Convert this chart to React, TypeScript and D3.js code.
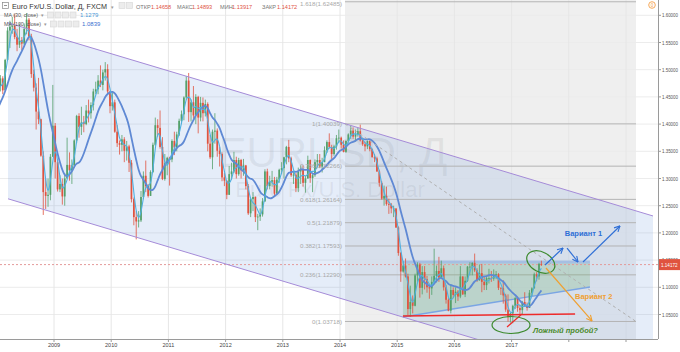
import React from 'react';
import * as d3 from 'd3';

const W = 680;
const H = 352;
const PLOT_R = 658;
const PLOT_B = 339;
const FONT = 'Liberation Sans, Arial, sans-serif';

// Half-month candles, starting July 2007 (first half)
const firstPeriod = 2007.5;
const firstOpen = 1.37;
const closes = [
  // 2007 H2
  1.376, 1.366, 1.362, 1.366, 1.392, 1.426, 1.418, 1.448, 1.466, 1.463, 1.446, 1.459,
  // 2008
  1.47, 1.484, 1.462, 1.518, 1.572, 1.579, 1.58, 1.56, 1.546, 1.554, 1.548, 1.575,
  1.592, 1.561, 1.492, 1.467, 1.423, 1.409, 1.342, 1.275, 1.268, 1.27, 1.34, 1.397,
  // 2009
  1.33, 1.28, 1.29, 1.267, 1.3, 1.325, 1.315, 1.324, 1.37, 1.415, 1.395, 1.403,
  1.4, 1.425, 1.42, 1.435, 1.46, 1.464, 1.48, 1.472, 1.495, 1.501, 1.46, 1.433,
  // 2010
  1.44, 1.386, 1.365, 1.362, 1.372, 1.351, 1.359, 1.329, 1.262, 1.229, 1.221, 1.223,
  1.266, 1.305, 1.286, 1.268, 1.312, 1.362, 1.398, 1.393, 1.358, 1.299, 1.328, 1.338,
  // 2011
  1.335, 1.369, 1.357, 1.381, 1.406, 1.418, 1.449, 1.48, 1.422, 1.44, 1.416, 1.45,
  1.412, 1.439, 1.42, 1.437, 1.364, 1.339, 1.386, 1.388, 1.351, 1.345, 1.302, 1.296,
  // 2012
  1.27, 1.308, 1.313, 1.334, 1.308, 1.334, 1.315, 1.324, 1.286, 1.236, 1.262, 1.266,
  1.229, 1.23, 1.234, 1.258, 1.313, 1.286, 1.294, 1.297, 1.272, 1.298, 1.316, 1.319,
  // 2013
  1.339, 1.358, 1.337, 1.306, 1.307, 1.282, 1.313, 1.317, 1.292, 1.3, 1.334, 1.301,
  1.306, 1.33, 1.334, 1.322, 1.33, 1.352, 1.367, 1.358, 1.345, 1.359, 1.374, 1.375,
  // 2014
  1.362, 1.349, 1.369, 1.381, 1.388, 1.377, 1.381, 1.387, 1.37, 1.363, 1.359, 1.369,
  1.354, 1.339, 1.337, 1.313, 1.292, 1.263, 1.268, 1.253, 1.252, 1.245, 1.245, 1.21,
  // 2015
  1.163, 1.129, 1.14, 1.12, 1.06, 1.073, 1.066, 1.122, 1.142, 1.099, 1.128, 1.115,
  1.1, 1.098, 1.11, 1.121, 1.13, 1.118, 1.135, 1.1, 1.077, 1.057, 1.095, 1.086,
  // 2016
  1.092, 1.083, 1.12, 1.087, 1.112, 1.138, 1.138, 1.145, 1.131, 1.113, 1.126, 1.11,
  1.104, 1.117, 1.117, 1.116, 1.123, 1.124, 1.099, 1.098, 1.085, 1.059, 1.045, 1.052,
  // 2017
  1.066, 1.08, 1.062, 1.058, 1.073, 1.065, 1.062, 1.09, 1.098, 1.124, 1.12, 1.143, 1.14172,
];
const highs = [
  1.382, 1.385, 1.376, 1.37, 1.394, 1.428, 1.428, 1.45, 1.475, 1.497, 1.476, 1.473,
  1.485, 1.49, 1.488, 1.52, 1.578, 1.59, 1.597, 1.602, 1.575, 1.585, 1.56, 1.585,
  1.604, 1.595, 1.566, 1.5, 1.475, 1.485, 1.41, 1.35, 1.3, 1.3, 1.345, 1.472,
  1.402, 1.335, 1.306, 1.3, 1.31, 1.375, 1.348, 1.335, 1.372, 1.417, 1.42, 1.432,
  1.415, 1.435, 1.445, 1.44, 1.465, 1.478, 1.49, 1.508, 1.5, 1.514, 1.51, 1.46,
  1.458, 1.445, 1.398, 1.37, 1.38, 1.376, 1.369, 1.362, 1.334, 1.265, 1.24, 1.24,
  1.277, 1.313, 1.333, 1.29, 1.315, 1.366, 1.412, 1.409, 1.425, 1.376, 1.345, 1.34,
  1.34, 1.372, 1.386, 1.386, 1.41, 1.425, 1.451, 1.488, 1.494, 1.445, 1.47, 1.455,
  1.452, 1.45, 1.449, 1.445, 1.44, 1.38, 1.39, 1.42, 1.392, 1.358, 1.348, 1.31,
  1.296, 1.323, 1.329, 1.349, 1.34, 1.338, 1.336, 1.336, 1.325, 1.29, 1.264, 1.275,
  1.267, 1.235, 1.245, 1.264, 1.317, 1.318, 1.305, 1.314, 1.303, 1.303, 1.318, 1.33,
  1.34, 1.36, 1.371, 1.34, 1.313, 1.31, 1.32, 1.324, 1.324, 1.305, 1.342, 1.335,
  1.31, 1.335, 1.345, 1.345, 1.338, 1.359, 1.37, 1.383, 1.362, 1.362, 1.38, 1.39,
  1.377, 1.37, 1.37, 1.383, 1.397, 1.394, 1.39, 1.393, 1.399, 1.375, 1.368, 1.37,
  1.37, 1.355, 1.345, 1.34, 1.316, 1.295, 1.287, 1.285, 1.263, 1.255, 1.25, 1.245,
  1.212, 1.165, 1.148, 1.153, 1.125, 1.103, 1.085, 1.125, 1.146, 1.145, 1.139, 1.139,
  1.121, 1.105, 1.12, 1.171, 1.14, 1.156, 1.149, 1.14, 1.104, 1.08, 1.106, 1.1,
  1.1, 1.095, 1.139, 1.12, 1.12, 1.139, 1.146, 1.146, 1.162, 1.135, 1.142, 1.143,
  1.12, 1.12, 1.134, 1.13, 1.133, 1.13, 1.126, 1.1, 1.113, 1.088, 1.087, 1.053,
  1.068, 1.082, 1.083, 1.068, 1.075, 1.091, 1.072, 1.095, 1.1, 1.127, 1.128, 1.145, 1.14893,
];
const lows = [
  1.362, 1.36, 1.355, 1.334, 1.36, 1.39, 1.404, 1.415, 1.44, 1.46, 1.436, 1.436,
  1.456, 1.46, 1.455, 1.462, 1.516, 1.54, 1.566, 1.556, 1.534, 1.54, 1.536, 1.545,
  1.565, 1.554, 1.485, 1.46, 1.39, 1.4, 1.34, 1.233, 1.244, 1.248, 1.26, 1.34,
  1.3, 1.276, 1.275, 1.252, 1.25, 1.3, 1.296, 1.29, 1.32, 1.365, 1.375, 1.38,
  1.385, 1.398, 1.403, 1.41, 1.425, 1.455, 1.455, 1.468, 1.462, 1.48, 1.455, 1.42,
  1.425, 1.384, 1.358, 1.344, 1.35, 1.33, 1.333, 1.312, 1.256, 1.214, 1.188, 1.21,
  1.22, 1.262, 1.275, 1.265, 1.268, 1.31, 1.36, 1.377, 1.355, 1.297, 1.296, 1.306,
  1.287, 1.33, 1.343, 1.35, 1.378, 1.4, 1.407, 1.445, 1.404, 1.405, 1.41, 1.4,
  1.383, 1.405, 1.405, 1.414, 1.35, 1.336, 1.317, 1.364, 1.34, 1.322, 1.295, 1.286,
  1.262, 1.27, 1.298, 1.31, 1.3, 1.305, 1.3, 1.305, 1.28, 1.233, 1.229, 1.24,
  1.22, 1.205, 1.222, 1.23, 1.257, 1.28, 1.28, 1.285, 1.266, 1.27, 1.292, 1.308,
  1.3, 1.326, 1.33, 1.303, 1.29, 1.275, 1.275, 1.29, 1.285, 1.274, 1.3, 1.292,
  1.275, 1.303, 1.32, 1.319, 1.311, 1.33, 1.347, 1.355, 1.336, 1.342, 1.353, 1.365,
  1.355, 1.348, 1.347, 1.366, 1.373, 1.373, 1.368, 1.377, 1.368, 1.36, 1.35, 1.354,
  1.35, 1.339, 1.33, 1.312, 1.285, 1.261, 1.25, 1.25, 1.235, 1.236, 1.229, 1.209,
  1.158, 1.11, 1.127, 1.118, 1.049, 1.046, 1.052, 1.065, 1.11, 1.081, 1.087, 1.096,
  1.09, 1.079, 1.086, 1.106, 1.109, 1.11, 1.116, 1.094, 1.07, 1.056, 1.052, 1.08,
  1.071, 1.075, 1.08, 1.086, 1.082, 1.11, 1.122, 1.122, 1.128, 1.11, 1.112, 1.091,
  1.095, 1.095, 1.107, 1.11, 1.112, 1.115, 1.095, 1.086, 1.07, 1.055, 1.037, 1.035,
  1.034, 1.06, 1.055, 1.049, 1.05, 1.064, 1.057, 1.062, 1.084, 1.098, 1.111, 1.114, 1.13917,
];

const yearTicks = [2009, 2010, 2011, 2012, 2013, 2014, 2015, 2016, 2017];
const extraYearTicks = [2018, 2019];
const priceTicks = [1.05, 1.1, 1.15, 1.2, 1.25, 1.3, 1.35, 1.4, 1.45, 1.5, 1.55, 1.6];

const fibLevels = [0, 0.236, 0.382, 0.5, 0.618, 0.786, 1, 1.618];
const fibLow = 1.03718;
const fibHigh = 1.40039;
const fibStart = 2014.087;
const fibEnd = 2019.175;

const channelT = [2008.196, 2019.472];
const channelUpper = [1.5862, 1.2311];
const channelWidth = 0.3235;

const lastPrice = 1.14172;
const ma30Len = 3;   // 30 daily bars ≈ 3 half-month bars
const ma100Len = 11; // 100 daily bars, smoothed on half-month bars

// Annotation anchors [year, price]
const boxT = [2015.1, 2018.37];
const boxTop = 1.1465;
const boxBottom = [1.0454, 1.1006];
const supportLine = [[2015.1, 1.0473], [2018.11, 1.051]];
const fakeBreakLine = [[2016.92, 1.027], [2017.18, 1.051]];
const ellipseLow = { t: 2016.99, p: 1.0307 };
const ellipseHigh = { t: 2017.51, p: 1.1465 };
const blueArrows = [
  [[2017.584, 1.141], [2017.899, 1.1722]],
  [[2017.969, 1.1722], [2018.161, 1.1465]],
  [[2018.248, 1.1465], [2018.895, 1.2127]],
];
const orangeArrow = [[2017.601, 1.1355], [2018.406, 1.0381]];
const label1 = { t: 2017.93, p: 1.1943, text: 'Вариант 1' };
const label2 = { t: 2018.108, p: 1.0785, text: 'Вариант 2' };
const label3 = { t: 2017.374, p: 1.016, text: 'Ложный пробой?' };

const legendOHLC = [
  ['ОТКР', '1.14658'],
  ['МАКС', '1.14893'],
  ['МИН', '1.13917'],
  ['ЗАКР', '1.14172'],
];

export default function App() {
  const x = d3.scaleLinear().domain([2009, 2017]).range([54, 511.6]);
  const y = d3.scaleLinear().domain([1.05, 1.6]).range([314.5, 15.3]);

  const candles = closes.map((c, i) => ({
    t: firstPeriod + (i + 0.5) / 24,
    o: i === 0 ? firstOpen : closes[i - 1],
    c,
    h: highs[i],
    l: lows[i],
  }));

  const ma = (n: number) =>
    candles
      .map((d, i) => (i >= n - 1 ? { t: d.t, v: d3.mean(closes.slice(i - n + 1, i + 1)) as number } : null))
      .filter(Boolean) as { t: number; v: number }[];
  const line = d3
    .line<{ t: number; v: number }>()
    .x((d) => x(d.t))
    .y((d) => y(d.v))
    .curve(d3.curveBasis);

  const up = '#53a06a';
  const down = '#e0533f';
  const bw = ((x(2010) - x(2009)) / 24) * 0.72;

  const chPts = [
    [x(channelT[0]), y(channelUpper[0])],
    [x(channelT[1]), y(channelUpper[1])],
    [x(channelT[1]), y(channelUpper[1] - channelWidth)],
    [x(channelT[0]), y(channelUpper[0] - channelWidth)],
  ];

  const fibRange = fibHigh - fibLow;
  const fx0 = x(fibStart);
  const fx1 = x(fibEnd);

  const boxPoly = [
    [x(boxT[0]), y(boxTop)],
    [x(boxT[1]), y(boxTop)],
    [x(boxT[1]), y(boxBottom[1])],
    [x(boxT[0]), y(boxBottom[0])],
  ];

  const P = (pt: number[]) => [x(pt[0]), y(pt[1])];

  const legendX = [136, 177, 220, 262];

  const iconBoxes = (x0: number, y0: number, n: number) =>
    d3.range(n).map((i) => (
      <rect key={i} x={x0 + i * 7.5} y={y0} width={6} height={6} fill="#ececec" stroke="#d6d6d6" strokeWidth={0.6} />
    ));

  return (
    <svg width={W} height={H} style={{ position: 'absolute', left: 0, top: 0, background: '#fff' }} fontFamily={FONT}>
      <defs>
        <clipPath id="plot">
          <rect x={0} y={0} width={PLOT_R} height={PLOT_B} />
        </clipPath>
        <marker id="arrB" viewBox="0 0 10 10" refX={9} refY={5} markerWidth={7} markerHeight={7} orient="auto" markerUnits="userSpaceOnUse">
          <path d="M1,1 L9,5 L1,9" fill="none" stroke="#2f6fd6" strokeWidth={1.6} />
        </marker>
        <marker id="arrO" viewBox="0 0 10 10" refX={9} refY={5} markerWidth={7} markerHeight={7} orient="auto" markerUnits="userSpaceOnUse">
          <path d="M1,1 L9,5 L1,9" fill="none" stroke="#f0a030" strokeWidth={1.6} />
        </marker>
      </defs>
      <rect x={0} y={0} width={W} height={H} fill="#fff" />
      <g clipPath="url(#plot)">
        {/* fib background */}
        <rect x={fx0} y={0} width={fx1 - fx0} height={PLOT_B} fill="rgba(120,120,120,0.12)" />
        {/* grid */}
        {priceTicks.map((p) => (
          <line key={p} x1={0} x2={PLOT_R} y1={y(p)} y2={y(p)} stroke="#ececec" strokeWidth={1} />
        ))}
        {[...yearTicks, ...extraYearTicks].map((t) => (
          <line key={t} x1={x(t)} x2={x(t)} y1={0} y2={PLOT_B} stroke="#e6e6e6" strokeWidth={1} />
        ))}
        {/* watermark */}
        <text x={333} y={167} textAnchor="middle" fontSize={42} fill="rgba(120,120,120,0.12)">EURUSD, Д</text>
        <text x={330} y={197} textAnchor="middle" fontSize={22} fill="rgba(120,120,120,0.12)">Euro Fx/U.S. Dollar</text>
        {/* channel fill */}
        <polygon points={chPts.map((p) => p.join(',')).join(' ')} fill="rgba(100,150,220,0.17)" />
        {/* fib levels */}
        {fibLevels.map((lv) => {
          const yy = y(fibLow + lv * fibRange);
          return <line key={lv} x1={fx0} x2={fx1} y1={yy} y2={yy} stroke="#b4b4b4" strokeWidth={1} />;
        })}
        {/* green box */}
        <polygon points={boxPoly.map((p) => p.join(',')).join(' ')} fill="rgba(90,170,90,0.22)" />
        <line x1={boxPoly[0][0]} x2={boxPoly[1][0]} y1={boxPoly[0][1]} y2={boxPoly[1][1]} stroke="#a6bfe2" strokeWidth={3} />
        <line x1={boxPoly[3][0]} x2={boxPoly[2][0]} y1={boxPoly[3][1]} y2={boxPoly[2][1]} stroke="#7aa5e4" strokeWidth={1.4} />
        {/* current price line */}
        <line x1={0} x2={PLOT_R} y1={y(lastPrice)} y2={y(lastPrice)} stroke="#e49a9a" strokeWidth={1} strokeDasharray="2,2" />
        {/* candles */}
        {candles.map((d, i) => {
          const col = d.c >= d.o ? up : down;
          const cx = x(d.t);
          const yTop = y(Math.max(d.o, d.c));
          const yBot = y(Math.min(d.o, d.c));
          return (
            <g key={i}>
              <line x1={cx} x2={cx} y1={y(d.h)} y2={y(d.l)} stroke={col} strokeWidth={0.8} />
              <rect x={cx - bw / 2} y={yTop} width={bw} height={Math.max(0.8, yBot - yTop)} fill={col} />
            </g>
          );
        })}
        {/* moving averages */}
        <path d={line(ma(ma100Len)) || ''} fill="none" stroke="#5f89d4" strokeWidth={1.8} />
        <path d={line(ma(ma30Len)) || ''} fill="none" stroke="#4fb0e0" strokeWidth={1.1} />
        {/* channel borders */}
        <line x1={chPts[0][0]} y1={chPts[0][1]} x2={chPts[1][0]} y2={chPts[1][1]} stroke="#a58bd8" strokeWidth={1} />
        <line x1={chPts[3][0]} y1={chPts[3][1]} x2={chPts[2][0]} y2={chPts[2][1]} stroke="#a58bd8" strokeWidth={1} />
        {/* fib trend line */}
        <line x1={fx0} y1={y(fibHigh)} x2={fx1} y2={y(fibLow)} stroke="#b0b0b0" strokeWidth={1} strokeDasharray="3,3" />
        {/* support + fake break */}
        <line x1={P(supportLine[0])[0]} y1={P(supportLine[0])[1]} x2={P(supportLine[1])[0]} y2={P(supportLine[1])[1]} stroke="#ee2a2a" strokeWidth={1.5} />
        <line x1={P(fakeBreakLine[0])[0]} y1={P(fakeBreakLine[0])[1]} x2={P(fakeBreakLine[1])[0]} y2={P(fakeBreakLine[1])[1]} stroke="#ee2a2a" strokeWidth={1.2} />
        {/* ellipses */}
        <ellipse cx={x(ellipseLow.t)} cy={y(ellipseLow.p)} rx={19} ry={8.5} fill="none" stroke="#3d8a2e" strokeWidth={1.2} />
        <ellipse cx={x(ellipseHigh.t)} cy={y(ellipseHigh.p)} rx={15} ry={10} fill="none" stroke="#3d8a2e" strokeWidth={1.2}
          transform={`rotate(28 ${x(ellipseHigh.t)} ${y(ellipseHigh.p)})`} />
        {/* arrows */}
        {blueArrows.map((a, i) => (
          <line key={i} x1={P(a[0])[0]} y1={P(a[0])[1]} x2={P(a[1])[0]} y2={P(a[1])[1]} stroke="#2f6fd6" strokeWidth={1.2} markerEnd="url(#arrB)" />
        ))}
        <line x1={P(orangeArrow[0])[0]} y1={P(orangeArrow[0])[1]} x2={P(orangeArrow[1])[0]} y2={P(orangeArrow[1])[1]} stroke="#f0a030" strokeWidth={1.2} markerEnd="url(#arrO)" />
        <text x={x(label1.t)} y={y(label1.p)} fontSize={7.5} fontWeight="bold" fill="#2f6fd6">{label1.text}</text>
        <text x={x(label2.t)} y={y(label2.p)} fontSize={7.5} fontWeight="bold" fill="#f0a030">{label2.text}</text>
        <text x={x(label3.t)} y={y(label3.p)} fontSize={7.5} fontWeight="bold" fontStyle="italic" fill="#4a8a2a">{label3.text}</text>
      </g>
      {/* fib labels */}
      {fibLevels.map((lv) => {
        const price = fibLow + lv * fibRange;
        const txt = `${lv}(${(Math.round(price * 1e5) / 1e5).toFixed(5)})`;
        return (
          <text key={lv} x={fx0 - 3} y={Math.max(6, y(price) + 2.2)} textAnchor="end" fontSize={6.2} fill="#a8a8a8">{txt}</text>
        );
      })}
      {/* axes */}
      <line x1={PLOT_R + 0.5} x2={PLOT_R + 0.5} y1={0} y2={PLOT_B} stroke="#9a9a9a" strokeWidth={1} />
      <line x1={0} x2={PLOT_R} y1={PLOT_B + 0.5} y2={PLOT_B + 0.5} stroke="#9a9a9a" strokeWidth={1} />
      {priceTicks.map((p) => (
        <g key={p}>
          <line x1={PLOT_R} x2={PLOT_R + 3} y1={y(p)} y2={y(p)} stroke="#9a9a9a" />
          <text x={PLOT_R + 4} y={y(p) + 2} fontSize={5} fill="#555" textLength={16} lengthAdjust="spacingAndGlyphs">{p.toFixed(5)}</text>
        </g>
      ))}
      {[...yearTicks, ...extraYearTicks].map((t) => (
        <line key={t} x1={x(t)} x2={x(t)} y1={PLOT_B} y2={PLOT_B + 3} stroke="#9a9a9a" />
      ))}
      {yearTicks.map((t) => (
        <text key={t} x={x(t)} y={347} textAnchor="middle" fontSize={5.5} fill="#444">{t}</text>
      ))}
      {/* last price label */}
      <rect x={PLOT_R + 1} y={y(lastPrice) - 5.5} width={W - PLOT_R - 1} height={11} fill="#e0533f" />
      <text x={PLOT_R + 3} y={y(lastPrice) + 2.2} fontSize={5.2} fill="#fff" textLength={16.5} lengthAdjust="spacingAndGlyphs">{lastPrice.toFixed(5)}</text>
      {/* top-right icon */}
      <circle cx={652} cy={5} r={3.3} fill="#fff" stroke="#f5a04a" strokeWidth={0.9} />
      <text x={652} y={7} textAnchor="middle" fontSize={4.5} fill="#f5a04a">0</text>
      {/* legend */}
      <rect x={2.5} y={2.5} width={6} height={6} fill="#fff" stroke="#888" strokeWidth={0.7} />
      <line x1={4} x2={7} y1={5.5} y2={5.5} stroke="#666" strokeWidth={0.7} />
      <text x={12} y={9} fontSize={8} fill="#333" textLength={95} lengthAdjust="spacingAndGlyphs">Euro Fx/U.S. Dollar, Д, FXCM</text>
      <text x={111} y={8.5} fontSize={5} fill="#999">▾</text>
      {iconBoxes(119, 2.5, 2)}
      {legendOHLC.map(([k, v], i) => (
        <g key={k}>
          <text x={legendX[i]} y={8.5} fontSize={5.6} fill="#777">{k}</text>
          <text x={legendX[i] + (k.length > 3 ? 15 : 12)} y={8.5} fontSize={5.6} fill="#e0533f">{v}</text>
        </g>
      ))}
      <text x={4} y={17} fontSize={6} fill="#555" textLength={34} lengthAdjust="spacingAndGlyphs">MA (30, close)</text>
      <text x={40.5} y={17} fontSize={4.5} fill="#999">▾</text>
      {iconBoxes(47.5, 12, 4)}
      <text x={80} y={17} fontSize={6} fill="#4a9ad8">1.1279</text>
      <text x={4} y={26} fontSize={6} fill="#555" textLength={37} lengthAdjust="spacingAndGlyphs">MA (100, close)</text>
      <text x={43.5} y={26} fontSize={4.5} fill="#999">▾</text>
      {iconBoxes(50.5, 21, 4)}
      <text x={82} y={26} fontSize={6} fill="#3a6fd0">1.0839</text>
    </svg>
  );
}
